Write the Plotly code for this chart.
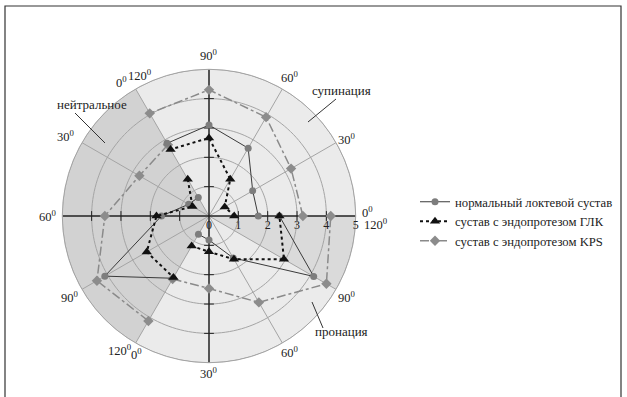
import math
import plotly.graph_objects as go

W, H = 627, 397

# Angular positions: three movements of 0..120 degrees each, laid end to end
theta_sup = [0, 30, 60, 90, 120]
theta_neu = [120, 150, 180, 210, 240]
theta_pro = [240, 270, 300, 330, 360]

# Radial values per movement (supination, neutral, pronation)
normal_sup = [1.68, 1.72, 2.67, 3.1, 2.86]
normal_neu = [0.73, 0.8, 1.62, 4.1, 2.45]
normal_pro = [0.72, 0.82, 1.65, 4.12, 2.4]

glk_sup = [0.86, 0.62, 1.45, 2.66, 2.62]
glk_neu = [1.45, 0.65, 1.79, 2.45, 2.42]
glk_pro = [1.18, 1.22, 1.7, 2.95, 2.4]

kps_sup = [3.2, 3.23, 3.89, 4.3, 4.04]
kps_neu = [2.8, 2.74, 3.55, 4.41, 4.13]
kps_pro = [2.48, 2.47, 3.4, 4.62, 4.15]

series_names = [
    "нормальный локтевой сустав",
    "сустав с эндопротезом ГЛК",
    "сустав с эндопротезом KPS",
]

radial_ticks = [0, 1, 2, 3, 4, 5]
grid_angles = [30, 60, 120, 150, 210, 240, 300, 330]
R_MAX = 5

FONT = "Liberation Serif, Times New Roman, serif"
INK = "#222222"
GRID = "#a4a4a4"

# polar area geometry (pixels)
CX, CY, RPX = 209, 216, 146.7


def joined(*parts):
    """Concatenate polyline parts with None gaps between them."""
    r_out, t_out = [], []
    for r_vals, t_vals in parts:
        if r_out:
            r_out.append(None)
            t_out.append(None)
        r_out.extend(r_vals)
        t_out.extend(t_vals)
    return r_out, t_out


fig = go.Figure()

# shaded sectors: neutral range and the end of pronation
fig.add_trace(go.Barpolar(
    r=[R_MAX, R_MAX], theta=[180, 345], width=[120, 30],
    marker=dict(color=["#d2d2d2", "#dadada"], line=dict(width=0)),
    showlegend=False, hoverinfo="skip",
))

# grid circles and rays, kept above the shaded sectors
circle_theta = list(range(0, 361, 2))
for tick in radial_ticks[1:]:
    fig.add_trace(go.Scatterpolar(
        r=[tick] * len(circle_theta), theta=circle_theta, mode="lines",
        line=dict(color=GRID, width=1), showlegend=False, hoverinfo="skip",
    ))
ray_r, ray_t = [], []
for ang in grid_angles:
    ray_r += [0, R_MAX, None]
    ray_t += [ang, ang, None]
fig.add_trace(go.Scatterpolar(
    r=ray_r, theta=ray_t, mode="lines",
    line=dict(color=GRID, width=1), showlegend=False, hoverinfo="skip",
))

# main horizontal and vertical axes with tick marks
fig.add_trace(go.Scatterpolar(
    r=[R_MAX, 0, R_MAX], theta=[0, 0, 180], mode="lines",
    line=dict(color=INK, width=1.5), showlegend=False, hoverinfo="skip",
))
fig.add_trace(go.Scatterpolar(
    r=[R_MAX, 0, R_MAX], theta=[90, 0, 270], mode="lines",
    line=dict(color=INK, width=1.5), showlegend=False, hoverinfo="skip",
))
inner = radial_ticks[1:-1]
fig.add_trace(go.Scatterpolar(
    r=inner * 2, theta=[0] * len(inner) + [180] * len(inner), mode="markers",
    marker=dict(symbol="line-ns", size=7, line=dict(color=INK, width=1)),
    showlegend=False, hoverinfo="skip",
))
fig.add_trace(go.Scatterpolar(
    r=inner * 2, theta=[90] * len(inner) + [270] * len(inner), mode="markers",
    marker=dict(symbol="line-ew", size=7, line=dict(color=INK, width=1)),
    showlegend=False, hoverinfo="skip",
))

# KPS endoprosthesis
r, t = joined((kps_sup, theta_sup), (kps_neu, theta_neu), (kps_pro, theta_pro))
fig.add_trace(go.Scatterpolar(
    r=r, theta=t, mode="lines+markers", name=series_names[2], legendrank=3,
    line=dict(color="#8a8a8a", width=1.5, dash="dashdot"),
    marker=dict(symbol="diamond", size=8, color="#8c8c8c"),
    connectgaps=False,
))

# normal elbow joint
r, t = joined((normal_sup, theta_sup), (normal_neu, theta_neu), (normal_pro, theta_pro))
fig.add_trace(go.Scatterpolar(
    r=r, theta=t, mode="lines+markers", name=series_names[0], legendrank=1,
    line=dict(color="#3a3a3a", width=1),
    marker=dict(symbol="circle", size=7, color="#7d7d7d"),
    connectgaps=False,
))

# GLK endoprosthesis
r, t = joined((glk_sup, theta_sup), (glk_neu, theta_neu), (glk_pro, theta_pro))
fig.add_trace(go.Scatterpolar(
    r=r, theta=t, mode="lines+markers", name=series_names[1], legendrank=2,
    line=dict(color="#111111", width=2, dash="dot"),
    marker=dict(symbol="triangle-up", size=9, color="#111111"),
    connectgaps=False,
))

# angular labels: (text, polar angle, distance in px)
deg = "<sup>0</sup>"
angle_labels = [
    ("90" + deg, 90, 161), ("60" + deg, 60, 161), ("30" + deg, 29, 158),
    ("0" + deg, 1.5, 159), ("120" + deg, -2.6, 167),
    ("120" + deg, 116, 157), ("0" + deg, 123, 160),
    ("30" + deg, 151, 164), ("60" + deg, 180, 161), ("90" + deg, 210, 161),
    ("120" + deg, 236.4, 161), ("0" + deg, 242.4, 156),
    ("30" + deg, 270, 157), ("60" + deg, 300.8, 158), ("90" + deg, 329.6, 160),
]

annotations = []
for text, ang, dist in angle_labels:
    px = CX + dist * math.cos(math.radians(ang))
    py = CY - dist * math.sin(math.radians(ang))
    annotations.append(dict(
        x=px / W, y=1 - py / H, xref="paper", yref="paper", text=text,
        showarrow=False, xanchor="center", yanchor="middle",
        font=dict(family=FONT, size=12.5, color=INK),
    ))

# region callouts with leader lines
callouts = [
    ("нейтральное", (92, 104), (75, 113), (105, 143)),
    ("супинация", (341, 91), (336, 99), (308, 122)),
    ("пронация", (341, 331), (323, 328), (312, 302)),
]
shapes = []
for text, (tx, ty), (x0, y0), (x1, y1) in callouts:
    annotations.append(dict(
        x=tx / W, y=1 - ty / H, xref="paper", yref="paper", text=text,
        showarrow=False, xanchor="center", yanchor="middle",
        font=dict(family=FONT, size=13, color=INK),
    ))
    shapes.append(dict(
        type="line", xref="paper", yref="paper",
        x0=x0 / W, y0=1 - y0 / H, x1=x1 / W, y1=1 - y1 / H,
        line=dict(color="#333333", width=1),
    ))

# frame around the figure
shapes.append(dict(
    type="rect", xref="paper", yref="paper",
    x0=5 / W, x1=621 / W, y0=-0.05, y1=1 - 6 / H,
    line=dict(color="#333333", width=1.2), fillcolor="rgba(0,0,0,0)", layer="above",
))

fig.update_layout(
    width=W, height=H,
    margin=dict(l=0, r=0, t=0, b=0),
    paper_bgcolor="white",
    font=dict(family=FONT, size=12, color=INK),
    showlegend=True,
    legend=dict(
        x=415 / W, y=1 - 187 / H, xanchor="left", yanchor="top",
        font=dict(family=FONT, size=12.7, color=INK),
        bgcolor="rgba(0,0,0,0)", traceorder="normal",
    ),
    polar=dict(
        domain=dict(x=[(CX - RPX) / W, (CX + RPX) / W],
                    y=[1 - (CY + RPX) / H, 1 - (CY - RPX) / H]),
        bgcolor="#ebebeb",
        angularaxis=dict(
            rotation=0, direction="counterclockwise",
            tickmode="linear", tick0=0, dtick=30,
            showticklabels=False, ticks="", showgrid=False,
            showline=True, linecolor=GRID, linewidth=1,
        ),
        radialaxis=dict(
            range=[0, R_MAX], tickmode="array", tickvals=radial_ticks,
            angle=0, side="clockwise", showline=False, ticks="", showgrid=False,
            tickfont=dict(family=FONT, size=12, color=INK),
        ),
    ),
    annotations=annotations,
    shapes=shapes,
)

fig.write_html("out.html")
